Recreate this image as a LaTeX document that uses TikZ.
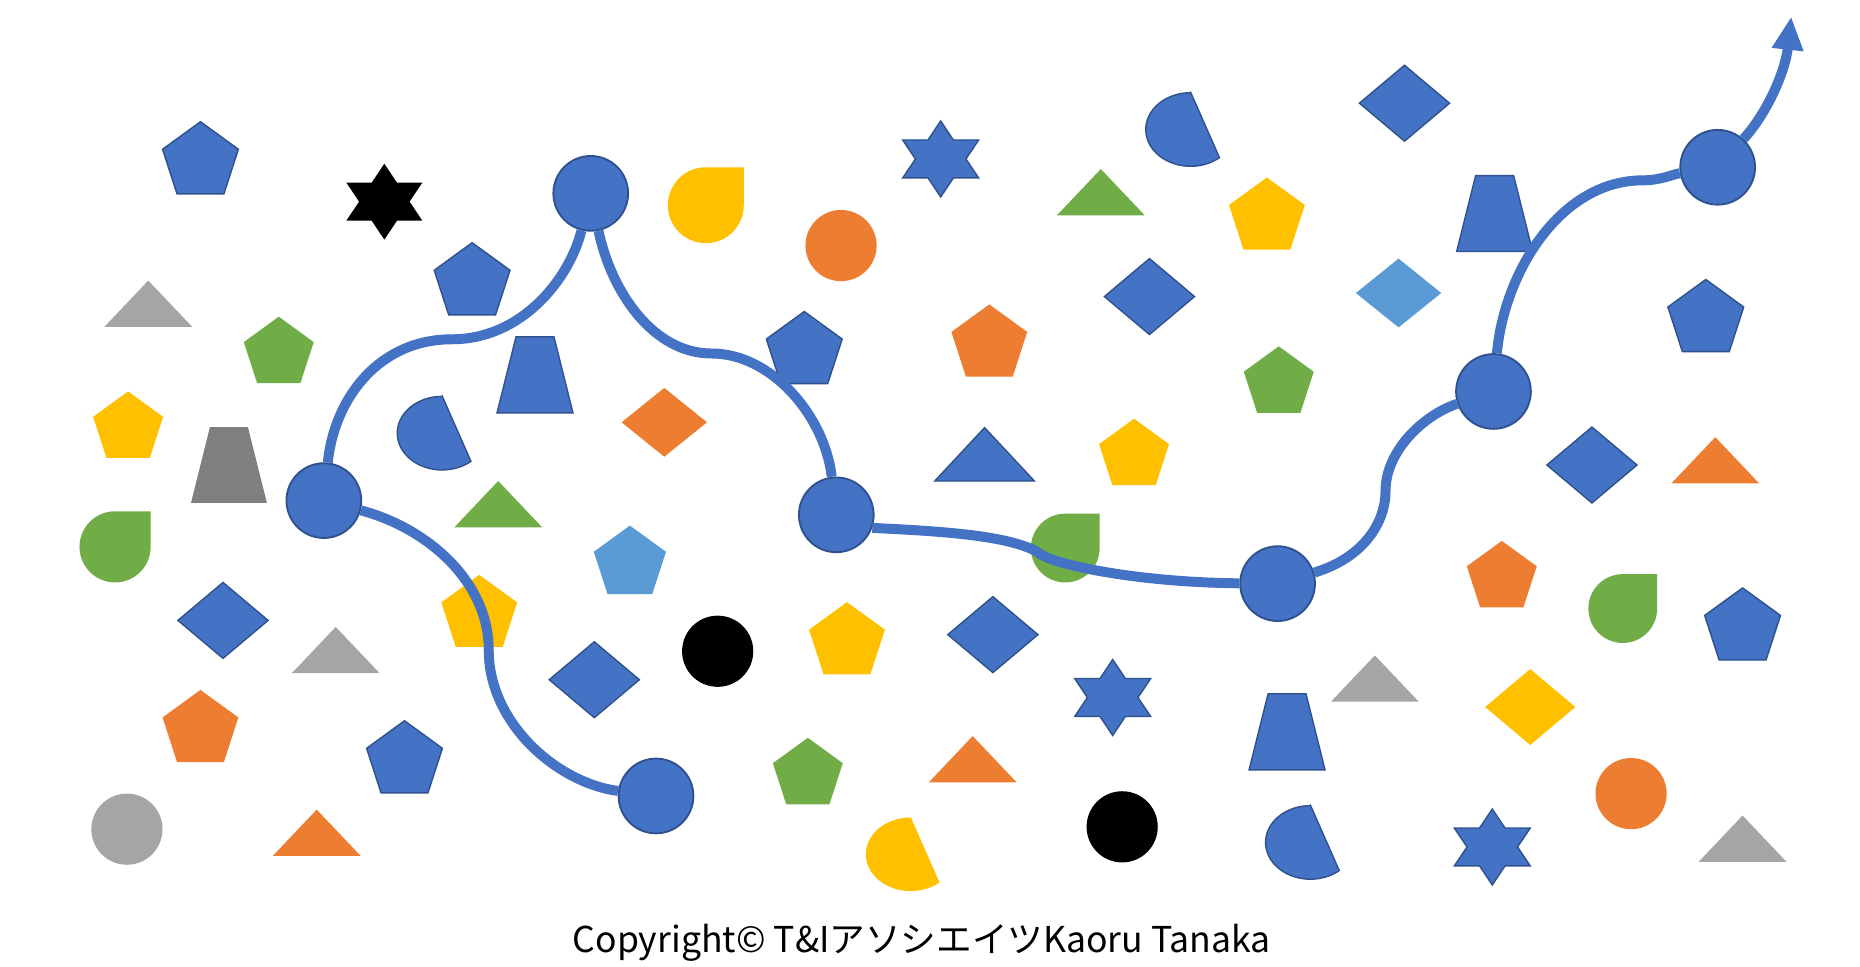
\documentclass[tikz,border=0pt]{standalone}
\usepackage{fontspec}
\newfontfamily\jpfont{Noto Sans CJK JP}
\usetikzlibrary{arrows.meta}

\definecolor{blueA}{HTML}{4472C4}
\definecolor{blueB}{HTML}{2F528F}
\definecolor{orangeA}{HTML}{ED7D31}
\definecolor{grayA}{HTML}{A5A5A5}
\definecolor{grayB}{HTML}{7F7F7F}
\definecolor{yellowA}{HTML}{FFC000}
\definecolor{greenA}{HTML}{70AD47}
\definecolor{skyA}{HTML}{5B9BD5}

\tikzset{
  bl/.style={fill=blueA, draw=blueB, line width=0.6pt},
  og/.style={fill=orangeA},
  gy/.style={fill=grayA},
  dg/.style={fill=grayB},
  yw/.style={fill=yellowA},
  gn/.style={fill=greenA},
  sk/.style={fill=skyA},
  bk/.style={fill=black},
  waypoint/.style={circle, fill=blueA, draw=blueB, line width=0.8pt, inner sep=0pt, minimum size=31.5pt},
  dot/.style={circle, inner sep=0pt, minimum size=30pt},
  route/.style={draw=blueA, line width=4.2pt},
}

\newcommand{\pent}[4]{\path[#4, shift={(#1,#2)}] (0,-0.9045*#3) -- (0.951*#3,-0.2135*#3) -- (0.588*#3,0.9045*#3) -- (-0.588*#3,0.9045*#3) -- (-0.951*#3,-0.2135*#3) -- cycle;}
\newcommand{\hexstar}[3]{\path[#3, shift={(#1,#2)}] (0,-32) -- (10.7,-16) -- (32,-16) -- (21.3,0) -- (32,16) -- (10.7,16) -- (0,32) -- (-10.7,16) -- (-32,16) -- (-21.3,0) -- (-32,-16) -- (-10.7,-16) -- cycle;}
\newcommand{\rhomb}[5]{\path[#5, shift={(#1,#2)}] (0,-#4) -- (#3,0) -- (0,#4) -- (-#3,0) -- cycle;}
\newcommand{\tri}[5]{\path[#5, shift={(#1,#2)}] (0,-#4/2) -- (#3,#4/2) -- (-#3,#4/2) -- cycle;}
\newcommand{\trap}[3]{\path[#3, shift={(#1,#2)}] (-16,-32) -- (16,-32) -- (32,32) -- (-32,32) -- cycle;}
\newcommand{\drop}[4]{\path[#4, shift={(#1,#2)}] (0,-#3) -- (#3,-#3) -- (#3,0) arc[start angle=0, end angle=-270, radius={#3*0.5pt}] -- cycle;}
\newcommand{\chord}[3]{\path[#3, shift={(#1,#2)}] (6.8,-31) -- (31,23.9) arc[start angle=-50, end angle=-270, x radius=18.9pt, y radius=15.5pt] -- cycle;}

\begin{document}
\begin{tikzpicture}[x=0.5pt, y=-0.5pt]
  \useasboundingbox (0,0) rectangle (1568,815);

  \pent{169}{133}{33.6}{bl}
  \pent{398}{235}{33.6}{bl}
  \pent{235}{295}{31}{gn}
  \pent{678}{293}{33.6}{bl}
  \pent{834}{287}{33.6}{og}
  \pent{1068}{180}{33.6}{yw}
  \pent{1078}{320}{31}{gn}
  \pent{1438}{266}{33.6}{bl}
  \pent{108}{358}{31}{yw}
  \pent{956}{381}{31}{yw}
  \pent{531}{472}{32}{sk}
  \pent{404}{515}{33.6}{yw}
  \pent{1266}{484}{31}{og}
  \pent{1469}{526}{33.6}{bl}
  \pent{714}{538}{33.6}{yw}
  \pent{169}{612}{33.6}{og}
  \pent{341}{638}{33.6}{bl}
  \pent{681}{650}{31}{gn}

  \hexstar{324}{170}{bk}
  \hexstar{793}{134}{bl}
  \hexstar{938}{588}{bl}
  \hexstar{1258}{714}{bl}

  \rhomb{1184}{87}{38}{32}{bl}
  \rhomb{969}{250}{38}{32}{bl}
  \rhomb{1179}{247}{36}{29}{sk}
  \rhomb{560}{356}{36}{29}{og}
  \rhomb{1342}{392}{38}{32}{bl}
  \rhomb{188}{523}{38}{32}{bl}
  \rhomb{837}{535}{38}{32}{bl}
  \rhomb{501}{573}{38}{32}{bl}
  \rhomb{1290}{596}{38}{32}{yw}

  \tri{928}{162}{37}{39}{gn}
  \tri{125}{256}{37}{39}{gy}
  \tri{830}{383}{42}{45}{bl}
  \tri{1446}{388}{37}{39}{og}
  \tri{420}{425}{37}{39}{gn}
  \tri{283}{548}{37}{39}{gy}
  \tri{1159}{572}{37}{39}{gy}
  \tri{820}{640}{37}{39}{og}
  \tri{267}{702}{37}{39}{og}
  \tri{1469}{707}{37}{39}{gy}

  \trap{1260}{180}{bl}
  \trap{451}{316}{bl}
  \trap{193}{392}{dg}
  \trap{1085}{617}{bl}

  \drop{595}{173}{32}{yw}
  \drop{97}{461}{30}{gn}
  \drop{898}{462}{29}{gn}
  \drop{1368}{513}{29}{gn}

  \chord{997}{109}{bl}
  \chord{366}{365}{bl}
  \chord{761}{720}{yw}
  \chord{1098}{710}{bl}

  \node[dot, fill=orangeA] (o1) at (709,207) {};
  \node[dot, fill=black] (k1) at (605,549) {};
  \node[dot, fill=orangeA] (o2) at (1375,669) {};
  \node[dot, fill=grayA] (g1) at (107,699) {};
  \node[dot, fill=black] (k2) at (946,697) {};

  \node[waypoint] (A) at (273,422) {};
  \node[waypoint] (B) at (498,163) {};
  \node[waypoint] (C) at (705,434) {};
  \node[waypoint] (D) at (553,671) {};
  \node[waypoint] (E) at (1077,492) {};
  \node[waypoint] (F) at (1259,330) {};
  \node[waypoint] (G) at (1448,141) {};

  \coordinate (ab) at (381,286);
  \coordinate (bc) at (600,298);
  \coordinate (ad) at (412,548);
  \coordinate (ce) at (874,465);
  \coordinate (ef) at (1168,414);
  \coordinate (fg) at (1385,152);
  \coordinate (tip) at (1510,14);

  \draw[route] (A) .. controls (282,335) and (320,286) .. (ab) .. controls (440,286) and (480,235) .. (B);
  \draw[route] (B) .. controls (515,245) and (550,298) .. (bc) .. controls (650,298) and (695,350) .. (C);
  \draw[route] (A) .. controls (360,445) and (412,490) .. (ad) .. controls (412,610) and (470,660) .. (D);
  \draw[route] (C.-20) .. controls (800,448) and (850,452) .. (ce) .. controls (885,476) and (960,491) .. (E);
  \draw[route] (E) .. controls (1150,470) and (1168,440) .. (ef) .. controls (1168,380) and (1200,350) .. (F);
  \draw[route] (F) .. controls (1268,230) and (1315,152) .. (fg) .. controls (1400,152) and (1410,147) .. (G);
  \draw[route, -{Triangle[width=12.5pt,length=14pt]}] (G) .. controls (1490,95) and (1505,60) .. (tip);

  \node[font=\jpfont\fontsize{15}{18}\selectfont, anchor=base] (copy) at (777,803) {Copyright© T\&IアソシエイツKaoru Tanaka};
\end{tikzpicture}
\end{document}
